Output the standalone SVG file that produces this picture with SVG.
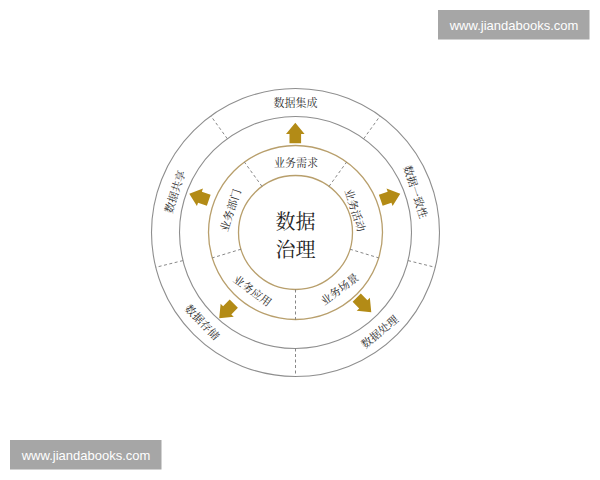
<svg xmlns="http://www.w3.org/2000/svg" xmlns:xlink="http://www.w3.org/1999/xlink" width="600" height="480" viewBox="0 0 600 480">
<style>
.gold{fill:none;stroke:#b89f6c;stroke-width:1.3}
.gray{fill:none;stroke:#8e8e8e;stroke-width:1.1}
.div{stroke:#7a7a7a;stroke-width:0.9;stroke-dasharray:3 2.5;fill:none}
.lbl{font-family:"Noto Serif CJK SC","Noto Sans CJK SC",serif;font-size:11px;fill:#2a2a2a;text-anchor:middle;dominant-baseline:central}
.ctr{font-family:"Noto Serif CJK SC","Noto Sans CJK SC",serif;font-size:20px;fill:#222;text-anchor:middle;dominant-baseline:central}
.arrow{fill:#b38b16}
.wm rect{fill:#a6a6a6}
.wm text{font-family:"Liberation Sans",Arial,sans-serif;font-size:13px;fill:#fff;text-anchor:middle}
</style>
<defs>
<path id="arr" d="M10.3,0 L-1,-9.3 L-1,-5.8 L-10.3,-5.8 L-10.3,5.8 L-1,5.8 L-1,9.3 Z"/>
</defs>
<rect width="600" height="480" fill="#fff"/>
<g id="rings">
<circle class="gray" cx="295.5" cy="232.5" r="144"/>
<circle class="gray" cx="295.5" cy="232.5" r="116"/>
<circle class="gold" cx="295.5" cy="232.5" r="87"/>
<circle class="gold" cx="295.5" cy="232.5" r="57"/>
</g>
<g id="connectors">
<line class="div" x1="262.0" y1="186.4" x2="244.4" y2="162.1"/>
<line class="div" x1="329.0" y1="186.4" x2="346.6" y2="162.1"/>
<line class="div" x1="350.0" y1="249.2" x2="378.7" y2="257.9"/>
<line class="div" x1="295.5" y1="289.5" x2="295.5" y2="319.5"/>
<line class="div" x1="241.0" y1="249.2" x2="212.3" y2="257.9"/>
<line class="div" x1="227.3" y1="138.7" x2="210.9" y2="116.0"/>
<line class="div" x1="363.7" y1="138.7" x2="380.1" y2="116.0"/>
<line class="div" x1="408.1" y1="260.6" x2="435.2" y2="267.3"/>
<line class="div" x1="295.5" y1="348.5" x2="295.5" y2="376.5"/>
<line class="div" x1="182.9" y1="260.6" x2="155.8" y2="267.3"/>
<use class="arrow" xlink:href="#arr" href="#arr" transform="translate(295.3,133) rotate(-90)"/>
<use class="arrow" xlink:href="#arr" href="#arr" transform="translate(390.5,197) rotate(-19)"/>
<use class="arrow" xlink:href="#arr" href="#arr" transform="translate(199,197) rotate(199)"/>
<use class="arrow" xlink:href="#arr" href="#arr" transform="translate(364,305) rotate(45)"/>
<use class="arrow" xlink:href="#arr" href="#arr" transform="translate(226.5,311) rotate(135)"/>
</g>
<g id="center">
<text class="ctr" x="295.5" y="220">数据</text>
<text class="ctr" x="295.5" y="248.5">治理</text>
</g>
<g id="yewu-xuqiu"><text class="lbl" transform="translate(296,162)">业务需求</text></g>
<g id="yewu-huodong"><text class="lbl" transform="translate(356,210) rotate(72)">业务活动</text></g>
<g id="yewu-changjing"><text class="lbl" transform="translate(339,288.5) rotate(-37)">业务场景</text></g>
<g id="yewu-yingyong"><text class="lbl" transform="translate(253,290) rotate(36)">业务应用</text></g>
<g id="yewu-bumen"><text class="lbl" transform="translate(229.5,210) rotate(-72)">业务部门</text></g>
<g id="shuju-jicheng"><text class="lbl" transform="translate(295.5,101.5)">数据集成</text></g>
<g id="shuju-yizhixing"><text class="lbl" transform="translate(416.5,191.5) rotate(72)">数据一致性</text></g>
<g id="shuju-chuli"><text class="lbl" transform="translate(379,331) rotate(-40)">数据处理</text></g>
<g id="shuju-cunchu"><text class="lbl" transform="translate(203,321.5) rotate(46)">数据存储</text></g>
<g id="shuju-gongxiang"><text class="lbl" transform="translate(174,191.5) rotate(-72)">数据共享</text></g>
<g id="watermark-top" class="wm">
<rect x="438" y="10" width="151.5" height="29.5"/>
<text x="514" y="29.5">www.jiandabooks.com</text>
</g>
<g id="watermark-bottom" class="wm">
<rect x="10" y="440" width="151.5" height="29.5"/>
<text x="86" y="459.5">www.jiandabooks.com</text>
</g>
</svg>
